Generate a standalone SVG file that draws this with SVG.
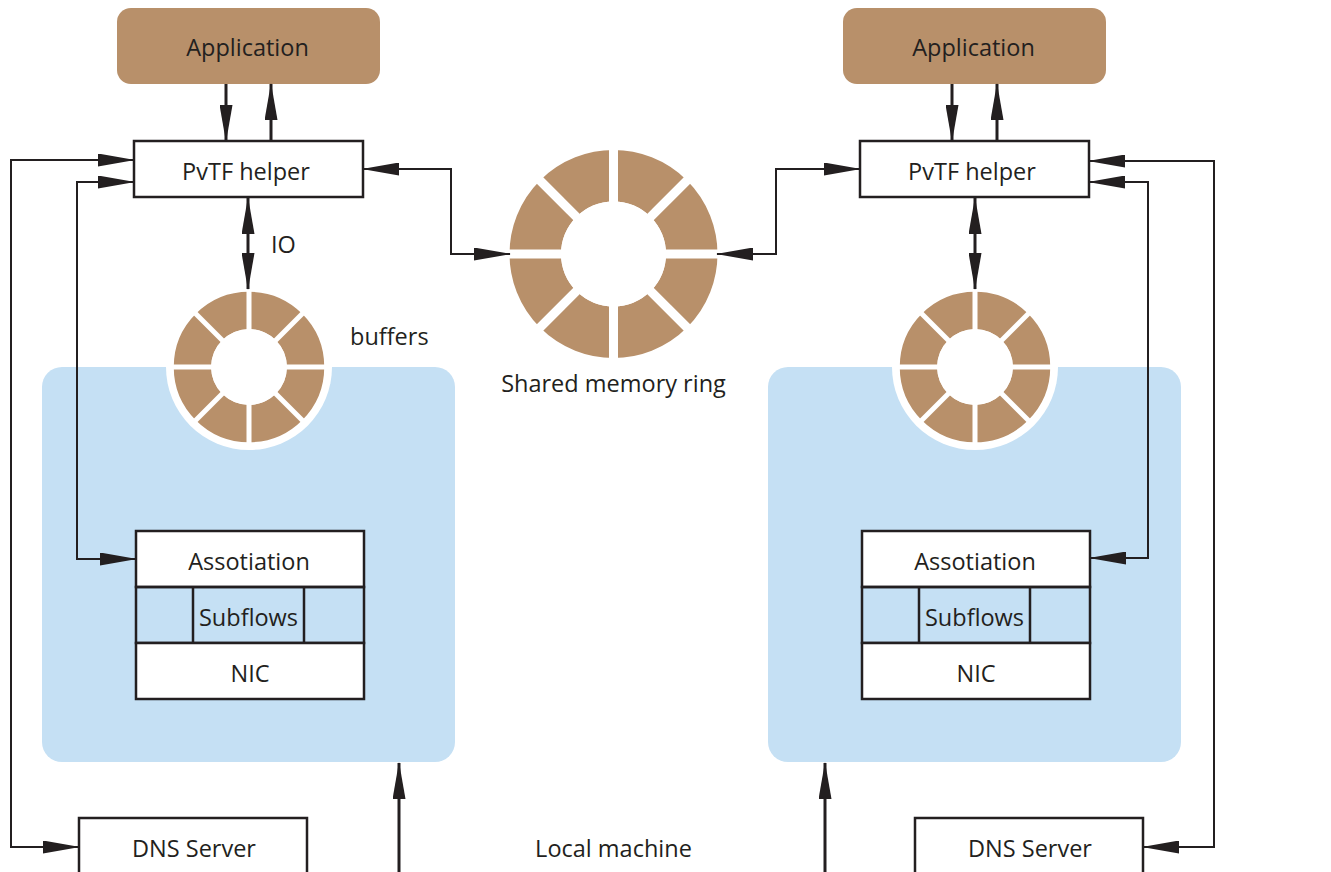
<svg xmlns="http://www.w3.org/2000/svg" width="1331" height="872" viewBox="0 0 1331 872">
<style>
text{font-family:"Open Sans","Noto Sans","Liberation Sans",sans-serif;font-size:23.5px;fill:#231f20}
.c{text-anchor:middle}
.app{fill:#b8906a}
.box{fill:#fff;stroke:#231f20;stroke-width:2.5}
.cell{fill:none;stroke:#231f20;stroke-width:2.5}
.panel{fill:#c5e0f4}
.ring{fill:none;stroke:#b8906a}
.gap{stroke:#fff}
.ln{fill:none;stroke:#231f20;stroke-width:2}
.thk{fill:none;stroke:#231f20;stroke-width:3}
.arr{marker-end:url(#ah)}
.bi{marker-start:url(#ah);marker-end:url(#ah)}
</style>
<defs>
<marker id="ah" viewBox="0 0 37 13" refX="36" refY="6.5" markerWidth="37" markerHeight="13" markerUnits="userSpaceOnUse" orient="auto-start-reverse">
<path d="M0,0 L37,6.5 L0,13 z" fill="#231f20"/>
</marker>
<g id="smallRing">
<circle r="83" fill="#fff"/>
<circle r="56.5" class="ring" stroke-width="37.5"/>
<g class="gap" stroke-width="5">
<line x1="-77" y1="0" x2="77" y2="0"/>
<line x1="0" y1="-77" x2="0" y2="77"/>
<line x1="-55" y1="-55" x2="55" y2="55"/>
<line x1="-55" y1="55" x2="55" y2="-55"/>
</g>
<circle r="38" fill="#fff"/>
</g>
</defs>
<rect width="1331" height="872" fill="#fff"/>

<g id="panel-left"><rect class="panel" x="42" y="367" width="413" height="395" rx="20"/></g>
<g id="panel-right"><rect class="panel" x="768" y="367" width="413" height="395" rx="20"/></g>

<g id="buffers-left"><use href="#smallRing" x="249" y="367"/></g>
<g id="buffers-right"><use href="#smallRing" x="975" y="367"/></g>

<g id="shared-ring">
<circle cx="613.5" cy="254" r="78.25" class="ring" stroke-width="51.5"/>
<g class="gap" stroke-width="9">
<line x1="505" y1="254" x2="722" y2="254"/>
<line x1="613.5" y1="145" x2="613.5" y2="363"/>
<line x1="537" y1="177.5" x2="690" y2="330.5"/>
<line x1="537" y1="330.5" x2="690" y2="177.5"/>
</g>
<circle cx="613.5" cy="254" r="52.5" fill="#fff"/>
</g>

<g id="app-left"><rect class="app" x="117" y="8" width="263" height="76" rx="14"/><text class="c" x="247.5" y="56">Application</text></g>
<g id="app-right"><rect class="app" x="843" y="8" width="263" height="76" rx="14"/><text class="c" x="973.5" y="56">Application</text></g>

<g id="pvtf-left"><rect class="box" x="134" y="141" width="229" height="56"/><text class="c" x="246" y="180">PvTF helper</text></g>
<g id="pvtf-right"><rect class="box" x="860" y="141" width="229" height="56"/><text class="c" x="972" y="180">PvTF helper</text></g>

<g id="stack-left">
<rect class="box" x="136" y="531" width="228" height="56"/>
<text class="c" x="249" y="570">Assotiation</text>
<rect class="cell" x="136" y="587" width="228" height="56"/>
<line class="cell" x1="193" y1="587" x2="193" y2="643"/>
<line class="cell" x1="304" y1="587" x2="304" y2="643"/>
<text class="c" x="248.5" y="626">Subflows</text>
<rect class="box" x="136" y="643" width="228" height="56"/>
<text class="c" x="250" y="682">NIC</text>
</g>
<g id="stack-right">
<rect class="box" x="862" y="531" width="228" height="56"/>
<text class="c" x="975" y="570">Assotiation</text>
<rect class="cell" x="862" y="587" width="228" height="56"/>
<line class="cell" x1="919" y1="587" x2="919" y2="643"/>
<line class="cell" x1="1030" y1="587" x2="1030" y2="643"/>
<text class="c" x="974.5" y="626">Subflows</text>
<rect class="box" x="862" y="643" width="228" height="56"/>
<text class="c" x="976" y="682">NIC</text>
</g>

<g id="dns-left"><rect class="box" x="79" y="818" width="228" height="70"/><text class="c" x="194" y="857">DNS Server</text></g>
<g id="dns-right"><rect class="box" x="915" y="818" width="228" height="70"/><text class="c" x="1030" y="857">DNS Server</text></g>

<g id="labels">
<text x="271" y="253">IO</text>
<text x="350" y="345">buffers</text>
<text class="c" x="613.5" y="392">Shared memory ring</text>
<text class="c" x="613.5" y="857">Local machine</text>
</g>

<g id="connectors">
<path class="thk arr" d="M226,84 V141"/>
<path class="thk arr" d="M271,141 V84"/>
<path class="thk bi" d="M248,198 V289"/>
<path class="ln bi" d="M134,160 H11 V847 H79"/>
<path class="ln bi" d="M134,182 H77 V559 H136"/>
<path class="ln bi" d="M363,169 H451 V254 H510"/>
<path class="thk arr" d="M399,872 V763"/>

<path class="thk arr" d="M952,84 V141"/>
<path class="thk arr" d="M997,141 V84"/>
<path class="thk bi" d="M975,198 V289"/>
<path class="ln bi" d="M717,254 H776 V169 H860"/>
<path class="ln bi" d="M1089,161 H1214 V847 H1143"/>
<path class="ln bi" d="M1089,182 H1148 V558 H1090"/>
<path class="thk arr" d="M825,872 V763"/>
</g>
</svg>
